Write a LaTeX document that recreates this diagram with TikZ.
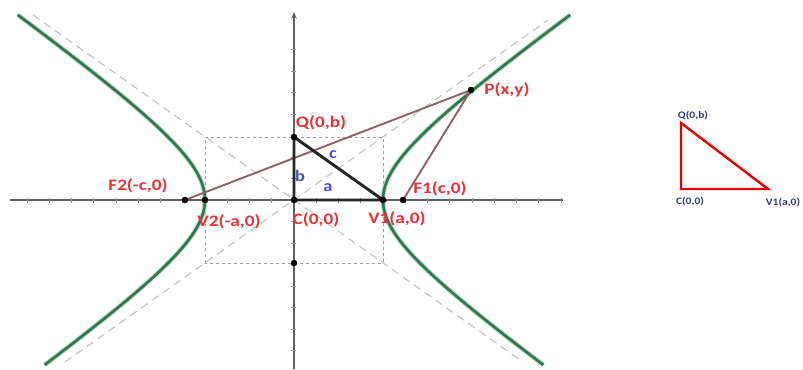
\documentclass[tikz,border=0pt]{standalone}
\usepackage{fontspec}
\setmainfont{Carlito}
\usetikzlibrary{arrows.meta}

\definecolor{hypgreen}{RGB}{48,120,80}
\definecolor{ptred}{RGB}{232,50,55}
\definecolor{segblue}{RGB}{70,80,205}
\definecolor{focline}{RGB}{140,96,100}
\definecolor{miniblue}{RGB}{50,55,125}
\definecolor{axisgray}{RGB}{95,95,95}

\tikzset{
  dot/.style={circle, fill=black, inner sep=0pt, minimum size=4.5pt},
  ptlabel/.style={font=\fontsize{12}{14}\selectfont\bfseries, text=ptred, xscale=1.2, inner sep=0pt},
  seglabel/.style={font=\fontsize{12}{14}\selectfont\bfseries, text=segblue, xscale=1.15, inner sep=0pt},
  minilabel/.style={font=\fontsize{7.5}{9}\selectfont\bfseries, text=miniblue, xscale=1.15, inner sep=0pt},
  asym/.style={dash pattern=on 6pt off 4pt, line width=0.9pt, gray!45},
  boxline/.style={dash pattern=on 2.5pt off 2pt, line width=0.6pt, gray!75}
}

\begin{document}
\begin{tikzpicture}[x=0.75pt, y=0.75pt]
  \useasboundingbox (-294,-169) rectangle (509,200);

  % asymptotes and the a-b box
  \coordinate (A1s) at (-229,-162);
  \coordinate (A1e) at (254,180);
  \coordinate (A2s) at (-261,185);
  \coordinate (A2e) at (229,-162);
  \draw[asym] (A1s) -- (A1e);
  \draw[asym] (A2s) -- (A2e);
  \draw[boxline] (-89,-63) rectangle (89,63);

  % axes
  \coordinate (xl) at (-284,0);
  \coordinate (xr) at (269,0);
  \coordinate (yb) at (0,-169);
  \coordinate (yt) at (0,188);
  \draw[axisgray, line width=1.2pt] (xl) -- (xr);
  \draw[axisgray, line width=1.2pt, -{Stealth[length=5pt,width=4pt]}] (yb) -- (yt);
  \foreach \i in {-12,...,-1,1,2,...,12}
    \draw[axisgray!70, line width=0.5pt] (22.25*\i,-2.5) -- (22.25*\i,2.5);
  \foreach \j in {-7,...,-1,1,2,...,7}
    \draw[axisgray!70, line width=0.5pt] (-2.5,21.5*\j) -- (2.5,21.5*\j);

  % hyperbola
  \foreach \s in {1,-1} {
    \draw[hypgreen!30, line width=3.6pt, variable=\t, domain=-1.69:1.80, samples=90]
      plot ({\s*89*cosh(\t)},{63*sinh(\t)});
    \draw[hypgreen, line width=2pt, variable=\t, domain=-1.69:1.80, samples=90]
      plot ({\s*89*cosh(\t)},{63*sinh(\t)});
  }

  % points
  \node[dot] (C) at (0,0) {};
  \node[dot] (V1) at (89,0) {};
  \node[dot] (V2) at (-89,0) {};
  \node[dot] (F1) at (109,0) {};
  \node[dot] (F2) at (-109,0) {};
  \node[dot] (Q) at (0,63) {};
  \node[dot] (Qm) at (0,-63) {};
  \node[dot] (P) at (177,110) {};

  % focal radii and triangle
  \draw[focline, line width=1.4pt] (F2.center) -- (P.center) -- (F1.center);
  \draw[black!85, line width=2.2pt] (Q.center) -- (C.center) -- (V1.center) -- cycle;
  \foreach \n in {C,V1,V2,F1,F2,Q,Qm,P}
    \fill (\n) circle (2.4pt);

  % labels
  \node[ptlabel] (lQ) at (27,77) {Q(0,b)};
  \node[ptlabel] (lP) at (213,110) {P(x,y)};
  \node[ptlabel] (lF2) at (-156,14) {F2(-c,0)};
  \node[ptlabel] (lV2) at (-65,-22) {V2(-a,0)};
  \node[ptlabel] (lC) at (22,-20) {C(0,0)};
  \node[ptlabel] (lV1) at (103,-19) {V1(a,0)};
  \node[ptlabel] (lF1) at (146,11) {F1(c,0)};
  \node[seglabel] (lb) at (6,24) {b};
  \node[seglabel] (lc) at (39,45) {c};
  \node[seglabel] (la) at (34,12) {a};

  % small triangle on the right
  \coordinate (mQ) at (387,77);
  \coordinate (mC) at (387,11);
  \coordinate (mV) at (474,11);
  \draw[red!90!black, line width=1.8pt, line join=miter] (mQ) -- (mC) -- (mV) -- cycle;
  \node[minilabel] (mlQ) at (399,84) {Q(0,b)};
  \node[minilabel] (mlC) at (396,-2) {C(0,0)};
  \node[minilabel] (mlV) at (489,-3) {V1(a,0)};
\end{tikzpicture}
\end{document}
